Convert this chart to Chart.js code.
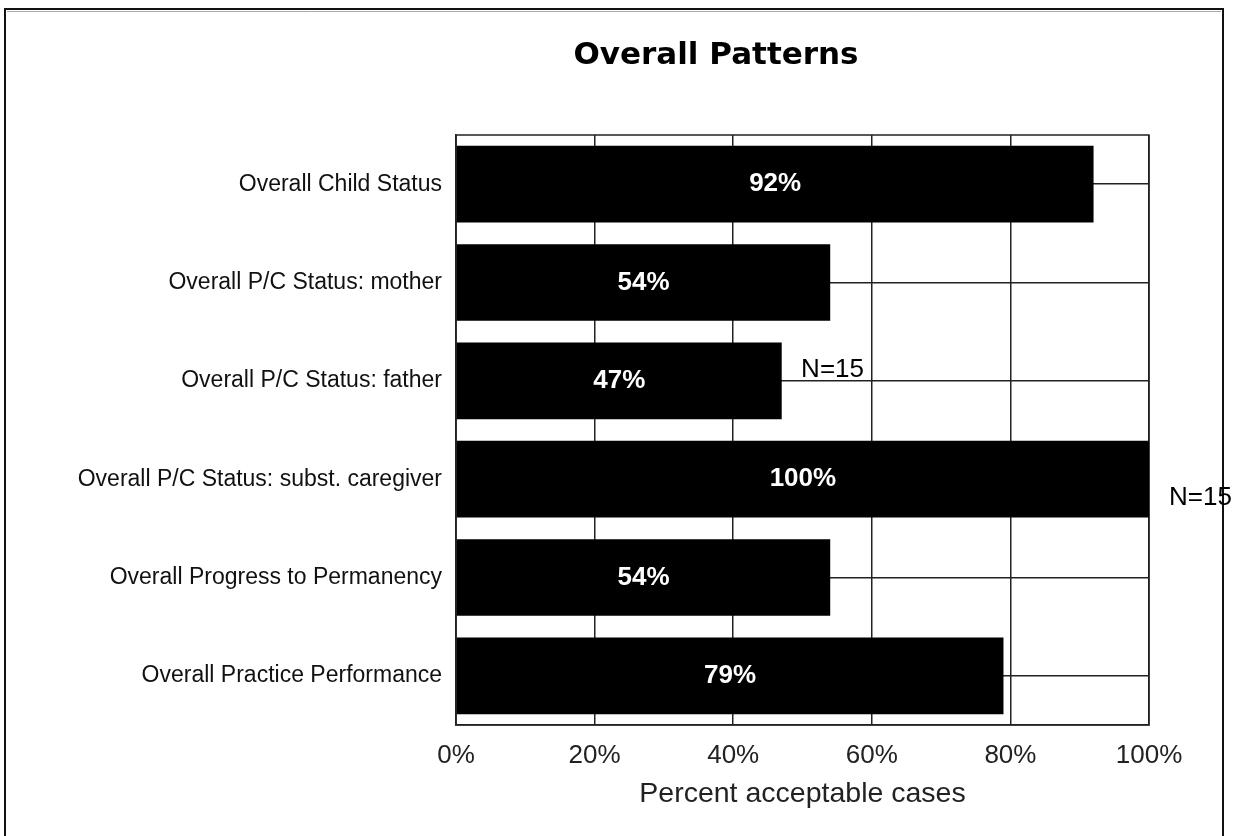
<!DOCTYPE html>
<html>
<head>
<meta charset="utf-8">
<script src="https://cdn.jsdelivr.net/npm/chart.js@4.4.1/dist/chart.umd.min.js"></script>
<style>
  html, body { margin: 0; padding: 0; background: #fff; }
  #marco { width: 1240px; height: 836px; }
</style>
</head>
<body>
<div id="marco"><canvas id="grafico" width="1240" height="836"></canvas></div>
<script>
// Datos del grafico
const categorias = [
  "Overall Child Status",
  "Overall P/C Status: mother",
  "Overall P/C Status: father",
  "Overall P/C Status: subst. caregiver",
  "Overall Progress to Permanency",
  "Overall Practice Performance"
];
const porcentajes = [92, 54, 47, 100, 54, 79];
const marcasX = [0, 20, 40, 60, 80, 100];
const tituloGrafico = "Overall Patterns";
const tituloEjeX = "Percent acceptable cases";

// Notas "N=15" (valor en el eje x, fila de la categoria)
const notasTexto = ["N=15", "N=15"];
const notasValor = [49.8, 102.9];
const notasFila = [1.96, 3.26];

// Marco exterior y titulo
const fondoYMarco = {
  id: "fondoYMarco",
  beforeDraw(chart) {
    const ctx = chart.ctx;
    ctx.save();
    ctx.fillStyle = "#fff";
    ctx.fillRect(0, 0, chart.width, chart.height);
    ctx.strokeStyle = "#111";
    ctx.lineWidth = 2;
    ctx.beginPath();
    ctx.moveTo(5, 840);
    ctx.lineTo(5, 9);
    ctx.lineTo(1223, 9);
    ctx.lineTo(1223, 840);
    ctx.stroke();
    ctx.strokeStyle = "#aaa";
    ctx.lineWidth = 1;
    ctx.beginPath();
    ctx.moveTo(7, 11.5);
    ctx.lineTo(1221, 11.5);
    ctx.stroke();

    ctx.fillStyle = "#000";
    ctx.font = "bold 31px 'DejaVu Sans'";
    ctx.textAlign = "center";
    ctx.textBaseline = "alphabetic";
    ctx.fillText(tituloGrafico, 716, 64);
    ctx.restore();
  }
};

// Borde del area de trazado
const bordeArea = {
  id: "bordeArea",
  beforeDatasetsDraw(chart) {
    const { ctx, chartArea: a } = chart;
    ctx.save();
    ctx.strokeStyle = "#222";
    ctx.lineWidth = 1.5;
    ctx.strokeRect(a.left, a.top, a.right - a.left, a.bottom - a.top);
    ctx.restore();
  }
};

// Etiquetas de porcentaje dentro de las barras y notas N=15
const etiquetas = {
  id: "etiquetas",
  afterDatasetsDraw(chart) {
    const ctx = chart.ctx;
    const meta = chart.getDatasetMeta(0);
    ctx.save();
    ctx.fillStyle = "#fff";
    ctx.font = "bold 26px 'Liberation Sans'";
    ctx.textAlign = "center";
    ctx.textBaseline = "middle";
    meta.data.forEach((barra, i) => {
      const cx = (barra.x + barra.base) / 2;
      ctx.fillText(porcentajes[i] + "%", cx, barra.y);
    });

    const escX = chart.scales.x, escY = chart.scales.y;
    const paso = escY.getPixelForValue(1) - escY.getPixelForValue(0);
    ctx.fillStyle = "#000";
    ctx.font = "26px 'Liberation Sans'";
    ctx.textAlign = "left";
    ctx.textBaseline = "alphabetic";
    notasTexto.forEach((t, i) => {
      const x = escX.getPixelForValue(notasValor[i]);
      const y = escY.getPixelForValue(0) + paso * notasFila[i];
      ctx.fillText(t, x, y);
    });
    ctx.restore();
  }
};

new Chart(document.getElementById("grafico"), {
  type: "bar",
  data: {
    labels: categorias,
    datasets: [{
      label: "Percent acceptable cases",
      data: porcentajes,
      backgroundColor: "#000",
      borderWidth: 0,
      barPercentage: 0.78,
      categoryPercentage: 1
    }]
  },
  options: {
    indexAxis: "y",
    responsive: false,
    animation: false,
    layout: { padding: { top: 135, right: 91, bottom: 0, left: 0 } },
    plugins: {
      legend: { display: false },
      title: { display: false },
      tooltip: { enabled: false }
    },
    scales: {
      x: {
        min: 0,
        max: 100,
        afterBuildTicks: (esc) => { esc.ticks = marcasX.map(v => ({ value: v })); },
        afterFit: (esc) => { esc.height = 111; },
        grid: { color: "#222", lineWidth: 1.5, drawTicks: false },
        border: { display: true, color: "#222", width: 1.5 },
        ticks: {
          padding: 15,
          color: "#222",
          font: { family: "'Liberation Sans'", size: 26 },
          callback: v => v + "%"
        },
        title: {
          display: true,
          text: tituloEjeX,
          color: "#222",
          font: { family: "'Liberation Sans'", size: 28.5 },
          padding: { top: 0, bottom: 25 }
        }
      },
      y: {
        afterFit: (esc) => { esc.width = 456; },
        grid: { offset: false, color: "#222", lineWidth: 1.5, drawTicks: false },
        border: { display: true, color: "#222", width: 1.5 },
        ticks: {
          padding: 14,
          color: "#111",
          font: { family: "'Liberation Sans'", size: 23 }
        }
      }
    }
  },
  plugins: [fondoYMarco, bordeArea, etiquetas]
});
</script>
</body>
</html>
